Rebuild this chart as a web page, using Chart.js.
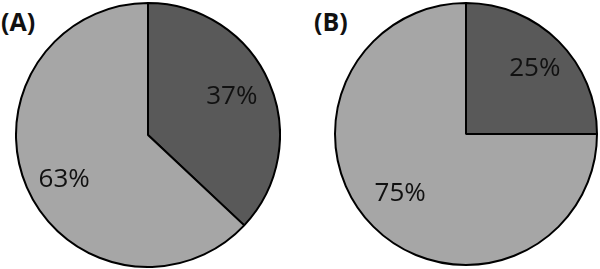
<!DOCTYPE html>
<html>
<head>
<meta charset="utf-8">
<script src="https://cdn.jsdelivr.net/npm/chart.js@4/dist/chart.umd.min.js"></script>
<style>
  html, body { margin: 0; padding: 0; background: #fff; }
  body { width: 600px; height: 269px; position: relative; overflow: hidden; }
  .box { position: absolute; }
  .tag { position: absolute; font-family: "Open Sans", sans-serif; font-weight: bold; font-size: 25px; color: #111; line-height: 1; }
</style>
</head>
<body>
<div class="tag" style="left:1px; top:9px;">(A)</div>
<div class="tag" style="left:314px; top:9px;">(B)</div>
<div class="box" style="left:15px; top:2px; width:266px; height:266px;"><canvas id="pieA"></canvas></div>
<div class="box" style="left:334px; top:2px; width:264px; height:264px;"><canvas id="pieB"></canvas></div>
<script>
const categories = ["Dark", "Light"];
const valuesA = [37, 63];
const valuesB = [25, 75];
const colors = ["#595959", "#a6a6a6"];

const labelPlugin = {
  id: "pctLabels",
  afterDatasetsDraw(chart, args, opts) {
    const ctx = chart.ctx;
    const meta = chart.getDatasetMeta(0);
    const data = chart.data.datasets[0].data;
    const nudge = opts.nudge || [];
    ctx.save();
    ctx.font = '26px "Open Sans", sans-serif';
    ctx.fillStyle = "#111";
    ctx.textAlign = "center";
    ctx.textBaseline = "middle";
    meta.data.forEach((arc, i) => {
      const p = arc.getProps(["x", "y", "startAngle", "endAngle", "outerRadius"], true);
      const mid = (p.startAngle + p.endAngle) / 2;
      const r = p.outerRadius * 0.7;
      const n = nudge[i] || [0, 0];
      ctx.fillText(data[i] + "%", p.x + Math.cos(mid) * r + n[0], p.y + Math.sin(mid) * r + n[1]);
    });
    ctx.restore();
  }
};

function makePie(id, values, nudge) {
  new Chart(document.getElementById(id), {
    type: "pie",
    data: {
      labels: categories,
      datasets: [{
        data: values,
        backgroundColor: colors,
        borderColor: "#000",
        borderWidth: 2
      }]
    },
    options: {
      responsive: true,
      maintainAspectRatio: false,
      animation: false,
      layout: { padding: 0 },
      plugins: {
        legend: { display: false },
        tooltip: { enabled: false },
        pctLabels: { nudge: nudge }
      }
    },
    plugins: [labelPlugin]
  });
}
makePie("pieA", valuesA, [[-1, -2], [1, 8]]);
makePie("pieB", valuesB, [[4, -1], [-1, -5]]);
</script>
</body>
</html>
